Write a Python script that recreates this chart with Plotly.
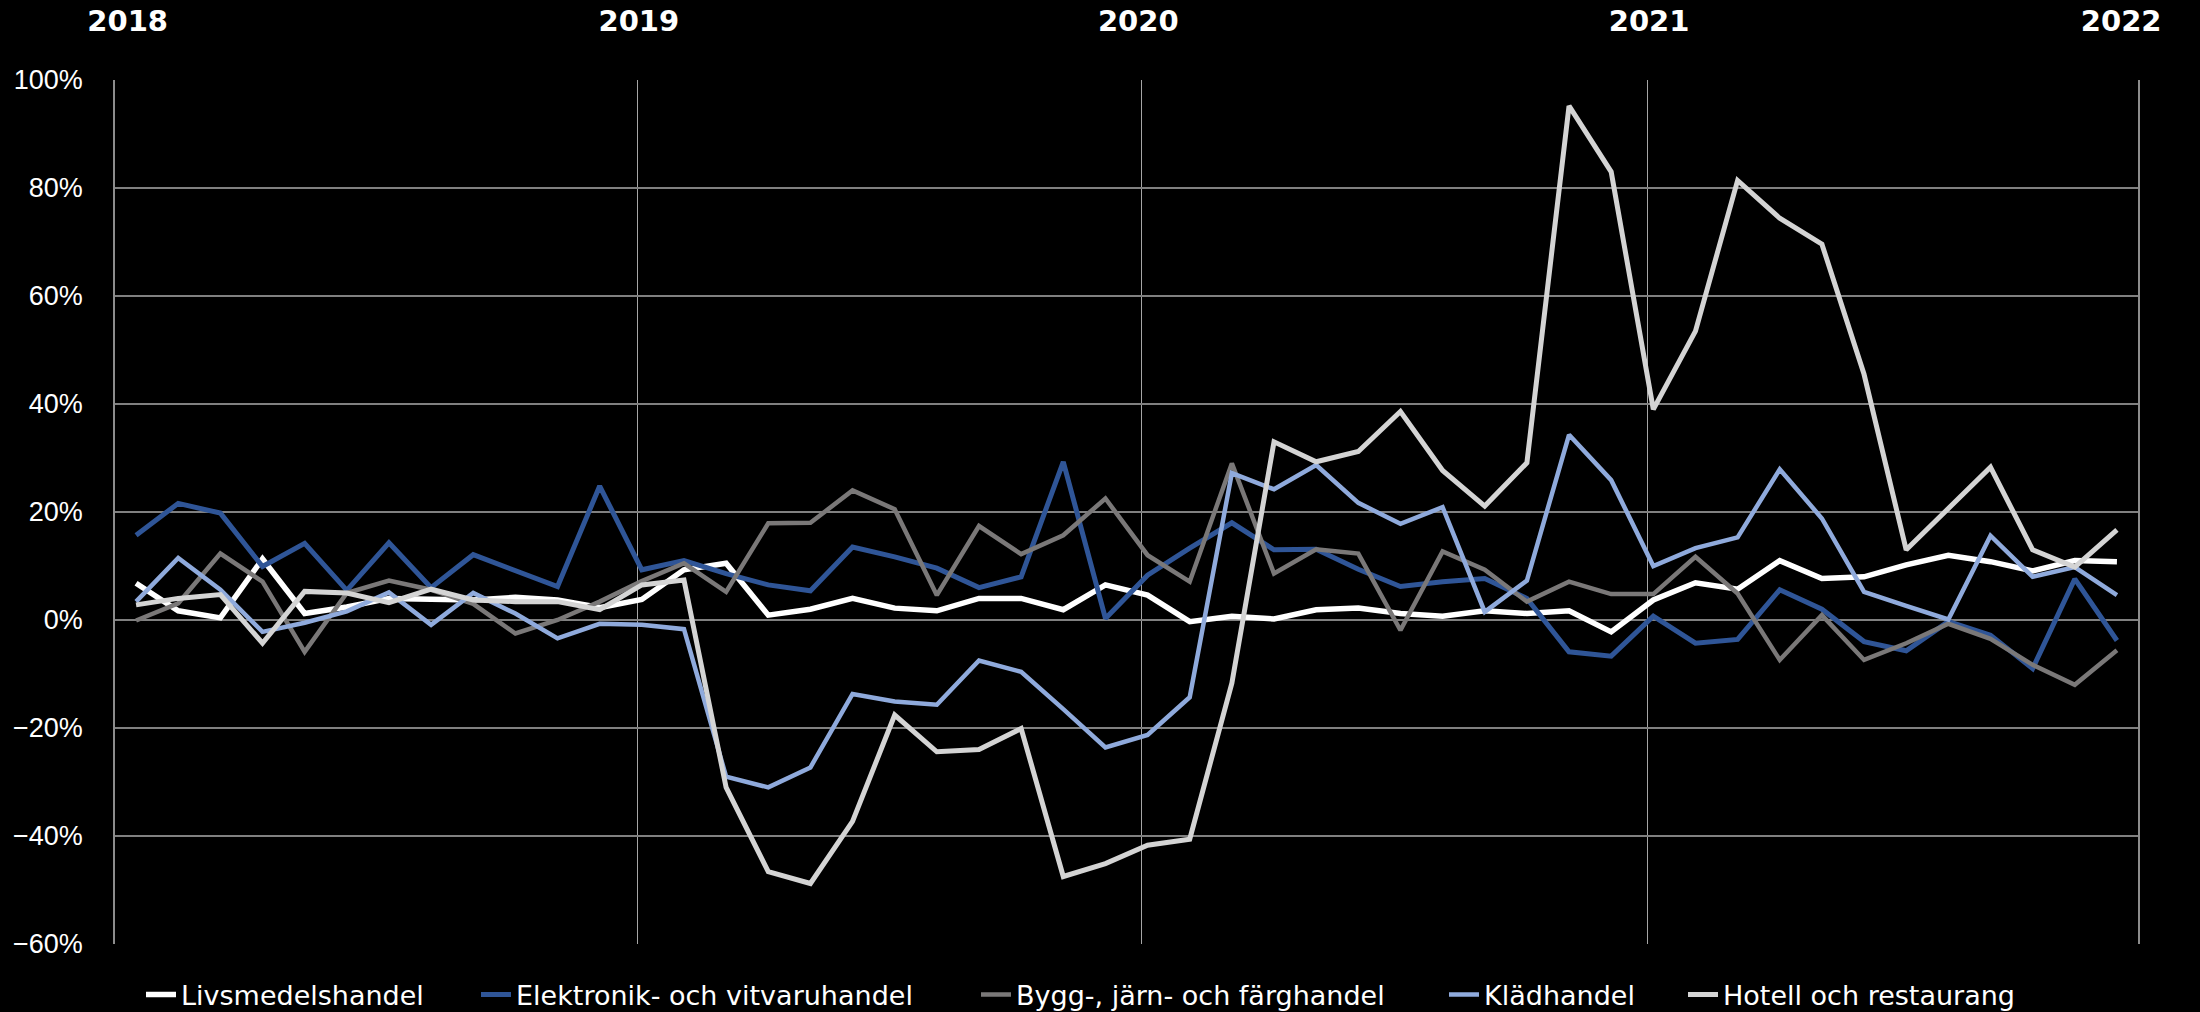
import plotly.graph_objects as go

months = [f"{y}-{m:02d}" for y in range(2018, 2022) for m in range(1, 13)]

livsmedel = [6.8, 1.7, 0.4, 11.3, 1.2, 2.4, 4.0, 3.8, 3.7, 4.2, 3.7, 2.3,
             3.8, 9.3, 10.5, 0.9, 2.0, 4.0, 2.2, 1.7, 4.0, 4.0, 1.9, 6.5,
             4.6, -0.3, 0.7, 0.2, 1.9, 2.2, 1.2, 0.7, 1.7, 1.2, 1.7, -2.2,
             3.7, 6.9, 5.7, 11.0, 7.7, 8.0, 10.2, 12.0, 10.8, 9.1, 11.0, 10.8]

elektronik = [15.7, 21.6, 19.8, 9.9, 14.2, 5.5, 14.3, 6.0, 12.1, 9.2, 6.2, 24.8,
              9.3, 11.0, 8.6, 6.5, 5.4, 13.5, 11.7, 9.6, 6.0, 8.0, 29.3, 0.3,
              8.3, 13.3, 18.0, 13.0, 13.1, 9.4, 6.2, 7.1, 7.7, 4.0, -5.9, -6.7,
              0.7, -4.3, -3.6, 5.6, 2.0, -4.0, -5.7, -0.3, -2.8, -9.0, 7.6, -3.8]

bygg = [-0.1, 3.1, 12.3, 7.1, -5.9, 5.0, 7.3, 5.6, 3.0, -2.5, 0.0, 3.4,
        7.2, 10.5, 5.2, 17.9, 18.0, 24.0, 20.5, 4.6, 17.4, 12.2, 15.7, 22.5,
        12.0, 7.1, 29.0, 8.6, 13.1, 12.3, -1.9, 12.7, 9.3, 3.4, 7.1, 4.8,
        4.8, 11.7, 4.9, -7.4, 0.9, -7.4, -4.3, -0.7, -3.5, -8.3, -12.0, -5.6]

kladhandel = [3.4, 11.5, 5.6, -2.2, -0.5, 1.6, 5.1, -0.9, 5.0, 1.2, -3.4, -0.7,
              -0.9, -1.7, -29.0, -31.0, -27.3, -13.7, -15.1, -15.7, -7.5, -9.6, -16.5, -23.6,
              -21.3, -14.3, 27.2, 24.2, 28.7, 21.7, 17.8, 20.9, 1.5, 7.3, 34.3, 25.9,
              10.0, 13.3, 15.3, 27.9, 18.8, 5.2, 2.6, 0.1, 15.6, 8.0, 9.8, 4.6]

hotell = [2.8, 4.0, 4.7, -4.3, 5.3, 5.0, 3.2, 5.7, 3.7, 3.4, 3.4, 1.9,
          6.5, 7.4, -31.0, -46.6, -48.8, -37.3, -17.6, -24.4, -24.0, -20.1, -47.5, -45.1,
          -41.7, -40.6, -11.7, 33.0, 29.3, 31.2, 38.6, 27.7, 21.1, 29.1, 95.2, 83.0,
          39.0, 53.5, 81.4, 74.4, 69.6, 45.5, 13.0, 20.7, 28.3, 13.0, 9.8, 16.7]

series_names = ["Livsmedelshandel", "Elektronik- och vitvaruhandel",
                "Bygg-, järn- och färghandel", "Klädhandel", "Hotell och restaurang"]
series_values = [livsmedel, elektronik, bygg, kladhandel, hotell]
colors = ["#FFFFFF", "#2F5597", "#7A7878", "#8FAADC", "#D4D4D4"]
widths = [5.5, 5.0, 4.5, 4.5, 5.0]

# legend entry left positions (container px)
legend_left_px = [141, 476, 976, 1444, 1683]

year_labels = ["2018", "2019", "2020", "2021", "2022"]
year_label_pos = [-0.2, 11.93, 23.78, 35.9, 47.1]
year_grid_pos = [11.9, 23.86, 35.87]

W, H = 2200, 1012
x = list(range(len(months)))

fig = go.Figure()
legend_layouts = {}
for k, (name, vals, c, w) in enumerate(zip(series_names, series_values, colors, widths)):
    lname = "legend" if k == 0 else f"legend{k + 1}"
    fig.add_trace(go.Scatter(x=x, y=vals, name=name, mode="lines",
                             line=dict(color=c, width=w), legend=lname,
                             customdata=months,
                             hovertemplate="%{customdata}: %{y:.1f}%<extra>" + name + "</extra>"))
    legend_layouts[lname] = dict(
        orientation="h", xref="container", yref="container",
        x=legend_left_px[k] / W, xanchor="left",
        y=1 - 995 / H, yanchor="middle",
        font=dict(family="DejaVu Sans", size=27, color="#FFFFFF"),
        bgcolor="rgba(0,0,0,0)", borderwidth=0)

# invisible trace to carry the top year axis
fig.add_trace(go.Scatter(x=[x[0], x[-1]], y=[0, 0], xaxis="x2", mode="lines",
                         line=dict(width=0), showlegend=False, hoverinfo="skip"))

fig.update_layout(
    width=W, height=H,
    paper_bgcolor="#000000", plot_bgcolor="#000000",
    margin=dict(l=115, r=62, t=80, b=68, autoexpand=False),
    font=dict(family="Liberation Sans, Arial, sans-serif", color="#FFFFFF"),
    xaxis=dict(range=[-0.5, 47.5], tickmode="array", tickvals=year_grid_pos,
               showticklabels=False, ticks="", showgrid=True, automargin=False,
               gridcolor="#A6A6A6", gridwidth=1, zeroline=False, showline=False),
    xaxis2=dict(range=[-0.5, 47.5], overlaying="x", side="top", anchor="y",
                tickmode="array", tickvals=year_label_pos, ticktext=year_labels,
                showgrid=False, zeroline=False, showline=False, ticks="",
                ticklabelstandoff=42, automargin=False,
                tickfont=dict(family="DejaVu Sans", size=29, color="#FFFFFF", weight="bold")),
    yaxis=dict(range=[-60, 100], dtick=20, tick0=0, ticksuffix="%",
               showgrid=True, gridcolor="#808080", gridwidth=2, automargin=False,
               zeroline=False, showline=True, linecolor="#8C8C8C", linewidth=1.5,
               mirror=True, ticks="", ticklabelstandoff=25,
               tickfont=dict(family="Liberation Sans, Arial", size=27, color="#FFFFFF")),
    showlegend=True,
    **legend_layouts,
)

fig.write_html("out.html", config={"displayModeBar": False},
               post_script="document.body.style.margin='0';document.body.style.overflow='hidden';")
